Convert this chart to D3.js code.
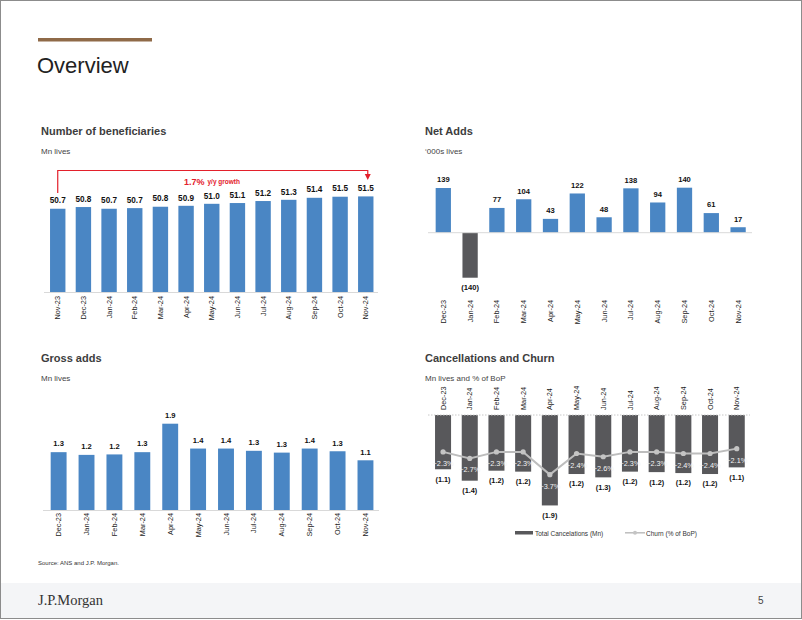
<!DOCTYPE html>
<html><head><meta charset="utf-8">
<script src="https://cdn.jsdelivr.net/npm/d3@7"></script>
<style>
html,body{margin:0;padding:0;background:#fff;}
svg{display:block;}
</style></head>
<body>
<svg id="page" width="802" height="620"></svg>
<script>
// ---------- DATA ----------
const monthsBenef = ["Nov-23","Dec-23","Jan-24","Feb-24","Mar-24","Apr-24","May-24","Jun-24","Jul-24","Aug-24","Sep-24","Oct-24","Nov-24"];
const beneficiaries = [50.70,50.81,50.70,50.74,50.83,50.89,51.02,51.07,51.20,51.28,51.41,51.48,51.50];
const months = ["Dec-23","Jan-24","Feb-24","Mar-24","Apr-24","May-24","Jun-24","Jul-24","Aug-24","Sep-24","Oct-24","Nov-24"];
const netAdds = [139,-140,77,104,43,122,48,138,94,140,61,17];
const grossAdds = [1.28,1.22,1.23,1.28,1.91,1.36,1.36,1.31,1.27,1.36,1.30,1.10];
const cancellations = [1.14,1.38,1.17,1.19,1.90,1.24,1.31,1.19,1.20,1.22,1.24,1.10];
const churn = [-2.3,-2.7,-2.3,-2.3,-3.7,-2.4,-2.6,-2.3,-2.3,-2.4,-2.4,-2.1];
const growthLabel = "1.7%";
const growthSub = "y/y growth";

// ---------- STYLE ----------
const SANS = "'Liberation Sans', Arial, Helvetica, sans-serif";
const NARROW = "'Liberation Sans Narrow', 'Arial Narrow', 'Liberation Sans', Arial, sans-serif";
const BLUE = "#4a86c4", DARK = "#58585b", RED = "#e3202b", TXT = "#3d3d3d";

const svg = d3.select("#page");

// page frame
svg.append("rect").attr("x",0.5).attr("y",0.5).attr("width",801).attr("height",618)
  .attr("fill","#fff").attr("stroke","#8c8c8c");
svg.append("rect").attr("x",1).attr("y",583).attr("width",800).attr("height",35).attr("fill","#f4f5f7");
svg.append("rect").attr("x",38).attr("y",38).attr("width",114).attr("height",3.5).attr("fill","#8f6a48");
svg.append("text").attr("x",37).attr("y",73).attr("font-family",SANS).attr("font-size",22)
  .attr("fill","#222").text("Overview");
svg.append("text").attr("x",38).attr("y",564.5).attr("font-family",SANS).attr("font-size",6)
  .attr("fill","#333").text("Source: ANS and J.P. Morgan.");
svg.append("text").attr("x",38).attr("y",605).attr("font-family","'Liberation Serif','DejaVu Serif',serif")
  .attr("font-size",14.5).attr("fill","#333").text("J.P.Morgan");
svg.append("text").attr("x",758).attr("y",604).attr("font-family",SANS).attr("font-size",10)
  .attr("fill","#444").text("5");

function titles(x, y, t, sub){
  svg.append("text").attr("x",x).attr("y",y).attr("font-family",SANS).attr("font-size",11)
    .attr("font-weight","bold").attr("fill",TXT).text(t);
  svg.append("text").attr("x",x).attr("y",y+19).attr("font-family",SANS).attr("font-size",8)
    .attr("fill","#444444").text(sub);
}
titles(41,135,"Number of beneficiaries","Mn lives");
titles(425,135,"Net Adds","\u2018000s lives");
titles(41,362,"Gross adds","Mn lives");
titles(425,362,"Cancellations and Churn","Mn lives and % of BoP");

function styleTicks(g, anchor, xoff){
  g.select(".domain").remove();
  g.selectAll(".tick line").remove();
  g.selectAll(".tick text")
    .attr("transform","rotate(-90)")
    .attr("x",xoff).attr("y",0).attr("dy","0.35em")
    .attr("text-anchor",anchor)
    .attr("font-family",NARROW).attr("font-size",7.3).attr("fill","#222");
}

// ---------- CHART 1: beneficiaries ----------
{
  const x = d3.scaleBand().domain(monthsBenef).range([44.9,378.6]).paddingInner(0.4).paddingOuter(0.2);
  const y = d3.scaleLinear().domain([45.3,52]).range([292,188.7]);
  const g = svg.append("g");
  g.selectAll("rect.bar").data(beneficiaries).join("rect")
    .attr("x",(d,i)=>x(monthsBenef[i])).attr("width",x.bandwidth())
    .attr("y",d=>y(d)).attr("height",d=>y(45.3)-y(d)).attr("fill",BLUE);
  g.append("line").attr("x1",44).attr("x2",378).attr("y1",y(45.3)+0.5).attr("y2",y(45.3)+0.5).attr("stroke","#d9d9d9");
  g.selectAll("text.lab").data(beneficiaries).join("text")
    .attr("x",(d,i)=>x(monthsBenef[i])+x.bandwidth()/2).attr("y",d=>y(d)-5.3)
    .attr("text-anchor","middle").attr("font-family",NARROW).attr("font-weight","bold")
    .attr("font-size",8.2).attr("fill","#111").text(d=>d3.format(".1f")(d));
  const ax = g.append("g").attr("transform",`translate(0,${y(45.3)})`).call(d3.axisBottom(x).tickSize(0));
  styleTicks(ax,"end",-4);
  // growth arrow
  const x0 = x(monthsBenef[0])+x.bandwidth()/2, x1 = x(monthsBenef[monthsBenef.length-1])+x.bandwidth()/2+2;
  g.append("path").attr("d",`M${x0},193 V170.5 H${x1} V175`).attr("fill","none").attr("stroke",RED).attr("stroke-width",1.2);
  g.append("path").attr("d",`M${x1-3},174 L${x1+3},174 L${x1},180 Z`).attr("fill",RED);
  g.append("text").attr("x",184).attr("y",184.5).attr("font-family",NARROW).attr("font-weight","bold")
    .attr("font-size",9).attr("fill",RED).text(growthLabel);
  g.append("text").attr("x",207.5).attr("y",183.5).attr("font-family",NARROW).attr("font-weight","bold")
    .attr("font-size",6.5).attr("fill",RED).text(growthSub);
}

// ---------- CHART 2: net adds ----------
{
  const x = d3.scaleBand().domain(months).range([430.3,751.1]).paddingInner(0.43).paddingOuter(0.2);
  const y = d3.scaleLinear().domain([-200,200]).range([297.0,168.4]);
  const g = svg.append("g");
  g.selectAll("rect.bar").data(netAdds).join("rect")
    .attr("x",(d,i)=>x(months[i])).attr("width",x.bandwidth())
    .attr("y",d=>d>=0?y(d):y(0)).attr("height",d=>Math.abs(y(d)-y(0)))
    .attr("fill",d=>d>=0?BLUE:DARK);
  g.append("line").attr("x1",428).attr("x2",752).attr("y1",y(0)).attr("y2",y(0)).attr("stroke","#d9d9d9");
  g.selectAll("text.lab").data(netAdds).join("text")
    .attr("x",(d,i)=>x(months[i])+x.bandwidth()/2).attr("y",d=>d>=0?y(d)-5.7:y(d)+12)
    .attr("text-anchor","middle").attr("font-family",NARROW).attr("font-weight","bold")
    .attr("font-size",7.6).attr("fill","#111").text(d=>d>=0?d3.format("d")(d):`(${d3.format("d")(-d)})`);
  const ax = g.append("g").attr("transform","translate(0,300)").call(d3.axisBottom(x).tickSize(0));
  styleTicks(ax,"end",0);
}

// ---------- CHART 3: gross adds ----------
{
  const x = d3.scaleBand().domain(months).range([45.1,379]).paddingInner(0.43).paddingOuter(0.2);
  const y = d3.scaleLinear().domain([0,2.2]).range([510,410.6]);
  const g = svg.append("g");
  g.selectAll("rect.bar").data(grossAdds).join("rect")
    .attr("x",(d,i)=>x(months[i])).attr("width",x.bandwidth())
    .attr("y",d=>y(d)).attr("height",d=>y(0)-y(d)).attr("fill",BLUE);
  g.append("line").attr("x1",43).attr("x2",379).attr("y1",y(0)+0.5).attr("y2",y(0)+0.5).attr("stroke","#d9d9d9");
  g.selectAll("text.lab").data(grossAdds).join("text")
    .attr("x",(d,i)=>x(months[i])+x.bandwidth()/2).attr("y",d=>y(d)-5.7)
    .attr("text-anchor","middle").attr("font-family",NARROW).attr("font-weight","bold")
    .attr("font-size",7.6).attr("fill","#111").text(d=>d3.format(".1f")(d));
  const ax = g.append("g").attr("transform",`translate(0,${y(0)})`).call(d3.axisBottom(x).tickSize(0));
  styleTicks(ax,"end",-3);
}

// ---------- CHART 4: cancellations & churn ----------
{
  const x = d3.scaleBand().domain(months).range([429.7,750.1]).paddingInner(0.4).paddingOuter(0.2);
  const y = d3.scaleLinear().domain([0,2]).range([415,510.2]);
  const y2 = d3.scaleLinear().domain([0,-4]).range([414.5,479.5]);
  const g = svg.append("g");
  g.selectAll("rect.bar").data(cancellations).join("rect")
    .attr("x",(d,i)=>x(months[i])).attr("width",x.bandwidth())
    .attr("y",y(0)).attr("height",d=>y(d)-y(0)).attr("fill",DARK);
  g.append("line").attr("x1",428).attr("x2",750).attr("y1",y(0)).attr("y2",y(0))
    .attr("stroke","#c8c8c8").attr("stroke-dasharray","1.5,1.5");
  g.selectAll("text.lab").data(cancellations).join("text")
    .attr("x",(d,i)=>x(months[i])+x.bandwidth()/2).attr("y",d=>y(d)+12.4)
    .attr("text-anchor","middle").attr("font-family",NARROW).attr("font-weight","bold")
    .attr("font-size",7.3).attr("fill","#111").text(d=>`(${d3.format(".1f")(d)})`);
  const cx = (d,i)=>x(months[i])+x.bandwidth()/2;
  const line = d3.line().x((d,i)=>cx(d,i)).y(d=>y2(d));
  g.append("path").datum(churn).attr("d",line).attr("fill","none").attr("stroke","#bdbdbd").attr("stroke-width",2);
  g.selectAll("circle.pt").data(churn).join("circle")
    .attr("cx",cx).attr("cy",d=>y2(d)).attr("r",2.6).attr("fill","#c4c4c4");
  g.selectAll("text.ch").data(churn).join("text")
    .attr("x",cx).attr("y",d=>y2(d)+14)
    .attr("text-anchor","middle").attr("font-family",NARROW)
    .attr("font-size",7.3).attr("fill","#f4f4f4").text(d=>d3.format(".1f")(d)+"%");
  const ax = g.append("g").attr("transform",`translate(0,${y(0)})`).call(d3.axisTop(x).tickSize(0));
  styleTicks(ax,"start",5);
  // legend
  const lg = g.append("g");
  lg.append("rect").attr("x",515).attr("y",531).attr("width",18).attr("height",3.5).attr("fill",DARK);
  lg.append("text").attr("x",535).attr("y",535.5).attr("font-family",NARROW).attr("font-size",6.5)
    .attr("fill","#333").text("Total Cancelations (Mn)");
  lg.append("line").attr("x1",625).attr("x2",645).attr("y1",532.8).attr("y2",532.8).attr("stroke","#bdbdbd").attr("stroke-width",1.5);
  lg.append("circle").attr("cx",635).attr("cy",532.8).attr("r",2).attr("fill","#c4c4c4");
  lg.append("text").attr("x",646).attr("y",535.5).attr("font-family",NARROW).attr("font-size",6.5)
    .attr("fill","#333").text("Churn (% of BoP)");
}
</script>
</body></html>
